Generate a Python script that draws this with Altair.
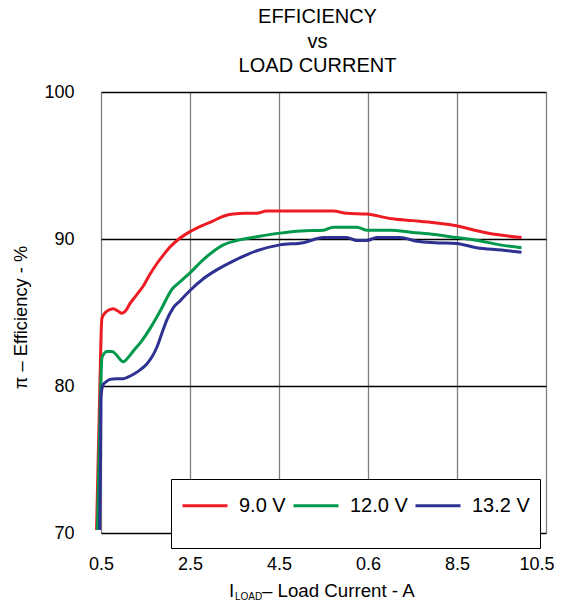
import altair as alt
import pandas as pd

FONT = "Liberation Sans"

red_x = [0.40, 0.46, 0.52, 0.60, 0.70, 0.78, 0.88, 0.97, 1.05, 1.15, 1.30, 1.45, 1.60, 1.75, 1.90, 2.05,
         2.25, 2.50, 2.80, 3.00, 3.25, 3.47, 3.75, 4.00, 4.22, 4.50, 5.00, 5.50, 5.72, 6.02, 6.47, 6.99,
         7.50, 8.00, 8.49, 8.90, 9.39, 9.95]
red_y = [70.2, 78.1, 84.6, 85.0, 85.2, 85.25, 85.1, 84.95, 85.1, 85.6, 86.2, 86.8, 87.6, 88.3, 88.9, 89.45,
         90.0, 90.5, 90.95, 91.2, 91.55, 91.7, 91.75, 91.75, 91.9, 91.9, 91.9, 91.9, 91.9, 91.75, 91.7, 91.4,
         91.25, 91.1, 90.9, 90.6, 90.3, 90.1]

green_x = [0.42, 0.47, 0.52, 0.58, 0.63, 0.75, 0.85, 0.93, 1.00, 1.10, 1.23, 1.40, 1.60, 1.83, 2.10, 2.28,
           2.50, 2.80, 3.00, 3.25, 3.55, 4.00, 4.52, 5.00, 5.50, 5.72, 6.25, 6.47, 7.00, 7.50, 8.00, 8.49,
           8.87, 9.47, 9.95]
green_y = [70.2, 77.0, 81.9, 82.25, 82.35, 82.35, 82.1, 81.8, 81.65, 81.9, 82.4, 83.0, 83.9, 85.1, 86.6, 87.1,
           87.7, 88.6, 89.1, 89.6, 89.9, 90.15, 90.4, 90.55, 90.6, 90.8, 90.8, 90.6, 90.6, 90.45, 90.3, 90.1,
           89.95, 89.6, 89.4]

blue_x = [0.47, 0.49, 0.50, 0.52, 0.55, 0.62, 0.70, 0.85, 1.00, 1.10, 1.23, 1.38, 1.53, 1.65, 1.75, 1.87,
          1.98, 2.12, 2.28, 2.50, 2.80, 3.10, 3.47, 4.00, 4.52, 5.05, 5.50, 6.02, 6.25, 6.47, 6.70, 7.22,
          7.60, 8.00, 8.49, 8.94, 9.50, 9.95]
blue_y = [70.2, 75.0, 79.2, 79.8, 80.1, 80.3, 80.45, 80.5, 80.5, 80.6, 80.8, 81.1, 81.5, 82.0, 82.6, 83.6,
          84.5, 85.3, 85.8, 86.5, 87.3, 87.9, 88.5, 89.2, 89.6, 89.75, 90.1, 90.1, 89.9, 89.9, 90.1, 90.1,
          89.85, 89.75, 89.7, 89.4, 89.25, 89.1]

series_names = ["9.0 V", "12.0 V", "13.2 V"]
series_colors = ["#ed1c24", "#00994c", "#2e3192"]
x_ticks = [0.5, 2.5, 4.5, 6.5, 8.5, 10.5]
x_tick_labels = ["0.5", "2.5", "4.5", "0.6", "8.5", "10.5"]
y_ticks = [70, 80, 90, 100]
title_lines = ["EFFICIENCY", "vs", "LOAD CURRENT"]

rows = []
for name, xs, ys in zip(series_names, [red_x, green_x, blue_x], [red_y, green_y, blue_y]):
    for i, (a, b) in enumerate(zip(xs, ys)):
        rows.append({"series": name, "i": i, "x": a, "y": b})
df = pd.DataFrame(rows)

label_map = "{" + ",".join(f"'{v}':'{l}'" for v, l in zip(x_ticks, x_tick_labels)) + "}"

W, H = 445, 441

lines = alt.Chart(df).mark_line(strokeWidth=3, interpolate="monotone", clip=False).encode(
    x=alt.X("x:Q", scale=alt.Scale(domain=[0.5, 10.5], nice=False, zero=False),
            axis=alt.Axis(values=x_ticks, title=None, grid=True, gridColor="#7f7f7f", gridWidth=1.3,
                          ticks=False, domain=False, labelFontSize=18, labelFont=FONT, labelColor="black",
                          labelPadding=22, labelFlush=False,
                          labelOffset={"condition": {"test": "datum.value == 10.5", "value": -9.5},
                                       "value": 0},
                          labelExpr=f"{label_map}[''+datum.value] || datum.label")),
    y=alt.Y("y:Q", scale=alt.Scale(domain=[70, 100], nice=False, zero=False),
            axis=alt.Axis(values=y_ticks, format="d", title="π – Efficiency - %", grid=True,
                          gridColor="black", gridWidth=1.3, ticks=False, domain=False, labelFlush=False,
                          labelFontSize=18, labelFont=FONT, labelColor="black", labelPadding=27,
                          titleFont=FONT, titleFontSize=18.3, titleFontWeight="normal", titleColor="black",
                          titleBaseline="middle", titleX=-80, titleY=225, titleAngle=-90)),
    color=alt.Color("series:N", scale=alt.Scale(domain=series_names, range=series_colors),
                    legend=alt.Legend(title=None, orient="none", legendX=70, legendY=387,
                                      direction="horizontal", symbolType="M-1,0H2M0,1.75",
                                      symbolSize=900, symbolStrokeWidth=3, labelFontSize=20,
                                      labelFont=FONT, labelColor="black", labelOffset=25,
                                      columnPadding=1, padding=10, fillColor="white",
                                      strokeColor="black",
                                      labelExpr="datum.label == '13.2 V' ? datum.label + ' ' : datum.label")),
    order="i:Q",
)

def txt(s, dx, dy, size):
    return alt.Chart(pd.DataFrame({"t": [s]})).mark_text(
        align="left", baseline="alphabetic", font=FONT, fontSize=size, color="black"
    ).encode(text="t:N", x=alt.value(dx), y=alt.value(dy))

xtitle = (txt("I", 128, 505, 18.7) + txt("LOAD", 134, 507.5, 10)
          + txt("– Load Current - A", 161, 505, 18.7))

chart = alt.layer(lines, xtitle).properties(
    width=W, height=H,
    title=alt.TitleParams(title_lines, fontSize=20, font=FONT, fontWeight="normal", color="black",
                          lineHeight=24.5, offset=7, anchor="middle", dx=-6),
    autosize=alt.AutoSizeParams(type="none"),
    padding={"left": 93, "top": 84, "right": 8, "bottom": 68},
).configure_view(stroke="black", strokeWidth=1.3).configure(background="white")

chart.save("out.html", embed_options={"renderer": "svg", "actions": False})
